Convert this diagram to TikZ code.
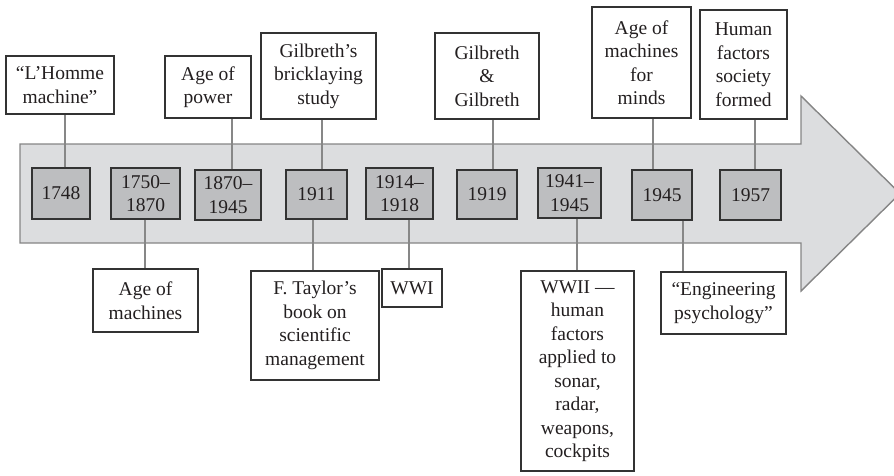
\documentclass[tikz,border=0pt]{standalone}
\usepackage{fontspec}
\setmainfont{Liberation Serif}
\definecolor{arrowfill}{HTML}{DCDDDF}
\definecolor{arrowline}{HTML}{858585}
\definecolor{yrfill}{HTML}{BDBEC0}
\definecolor{boxline}{HTML}{333333}
\definecolor{connc}{HTML}{878787}
\definecolor{txt}{HTML}{231F20}
\begin{document}
\begin{tikzpicture}[x=1pt,y=-1pt,
  lbl/.style={draw=boxline,fill=white,line width=1.4pt,inner sep=0pt,align=center,text=txt,font=\fontsize{19.5}{23.5}\selectfont},
  yr/.style={lbl,fill=yrfill},
  conn/.style={draw=connc,line width=2.6pt}]
\useasboundingbox (0,0) rectangle (894,475);
\clip (0,0) rectangle (894,475);
% arrow
\path[fill=arrowfill,draw=arrowline,line width=1.4pt]
  (20,144) -- (801,144) -- (801,96) -- (900,193.5) -- (801,291) -- (801,243) -- (20,243) -- cycle;
% year boxes
\node[yr,minimum width=58pt,minimum height=51pt] (y1748) at (61,193.5) {1748};
\node[yr,minimum width=69pt,minimum height=51pt] (y1750) at (145.5,193.5) {1750–\\1870};
\node[yr,minimum width=66pt,minimum height=50pt] (y1870) at (228,195) {1870–\\1945};
\node[yr,minimum width=61pt,minimum height=49pt] (y1911) at (316.5,194.5) {1911};
\node[yr,minimum width=67pt,minimum height=51pt] (y1914) at (399.5,193.5) {1914–\\1918};
\node[yr,minimum width=60pt,minimum height=49pt] (y1919) at (487,194.5) {1919};
\node[yr,minimum width=63pt,minimum height=50pt] (y1941) at (569.5,193) {1941–\\1945};
\node[yr,minimum width=60pt,minimum height=50pt] (y1945) at (662,195) {1945};
\node[yr,minimum width=61pt,minimum height=50pt] (y1957) at (750.5,195) {1957};
% top labels
\node[lbl,minimum width=108pt,minimum height=58pt] (lhomme) at (60,85) {“L’Homme\\machine”};
\node[lbl,minimum width=86pt,minimum height=62pt] (power) at (208,87) {Age of\\power};
\node[lbl,minimum width=115pt,minimum height=86pt] (brick) at (318.5,76) {Gilbreth’s\\bricklaying\\study};
\node[lbl,minimum width=104pt,minimum height=86pt] (gilb) at (487,76) {Gilbreth\\\&\\Gilbreth};
\node[lbl,minimum width=99pt,minimum height=111pt] (minds) at (641.5,62.5) {Age of\\machines\\for\\minds};
\node[lbl,minimum width=87pt,minimum height=109pt] (hfs) at (743.5,64.5) {Human\\factors\\society\\formed};
% bottom labels
\node[lbl,minimum width=105pt,minimum height=63pt] (mach) at (145.5,300.5) {Age of\\machines};
\node[lbl,minimum width=128pt,minimum height=109pt] (taylor) at (315,325.5) {F. Taylor’s\\book on\\scientific\\management};
\node[lbl,minimum width=60pt,minimum height=38pt] (wwi) at (412,288) {WWI};
\node[lbl,minimum width=113pt,minimum height=200pt] (wwii) at (577.5,371) {WWII —\\human\\factors\\applied to\\sonar,\\radar,\\weapons,\\cockpits};
\node[lbl,minimum width=125pt,minimum height=62pt] (eng) at (723.5,303) {“Engineering\\psychology”};
% connector x positions
\coordinate (c1) at (65,0);
\coordinate (c2) at (232,0);
\coordinate (c3) at (322,0);
\coordinate (c4) at (493,0);
\coordinate (c5) at (653,0);
\coordinate (c6) at (755,0);
\coordinate (d1) at (145,0);
\coordinate (d2) at (313,0);
\coordinate (d3) at (409,0);
\coordinate (d4) at (577,0);
\coordinate (d5) at (683,0);
% connectors
\draw[conn] (y1748.north -| c1) -- (lhomme.south -| c1);
\draw[conn] (y1870.north -| c2) -- (power.south -| c2);
\draw[conn] (y1911.north -| c3) -- (brick.south -| c3);
\draw[conn] (y1919.north -| c4) -- (gilb.south -| c4);
\draw[conn] (y1945.north -| c5) -- (minds.south -| c5);
\draw[conn] (y1957.north -| c6) -- (hfs.south -| c6);
\draw[conn] (y1750.south -| d1) -- (mach.north -| d1);
\draw[conn] (y1911.south -| d2) -- (taylor.north -| d2);
\draw[conn] (y1914.south -| d3) -- (wwi.north -| d3);
\draw[conn] (y1941.south -| d4) -- (wwii.north -| d4);
\draw[conn] (y1945.south -| d5) -- (eng.north -| d5);
\end{tikzpicture}
\end{document}
